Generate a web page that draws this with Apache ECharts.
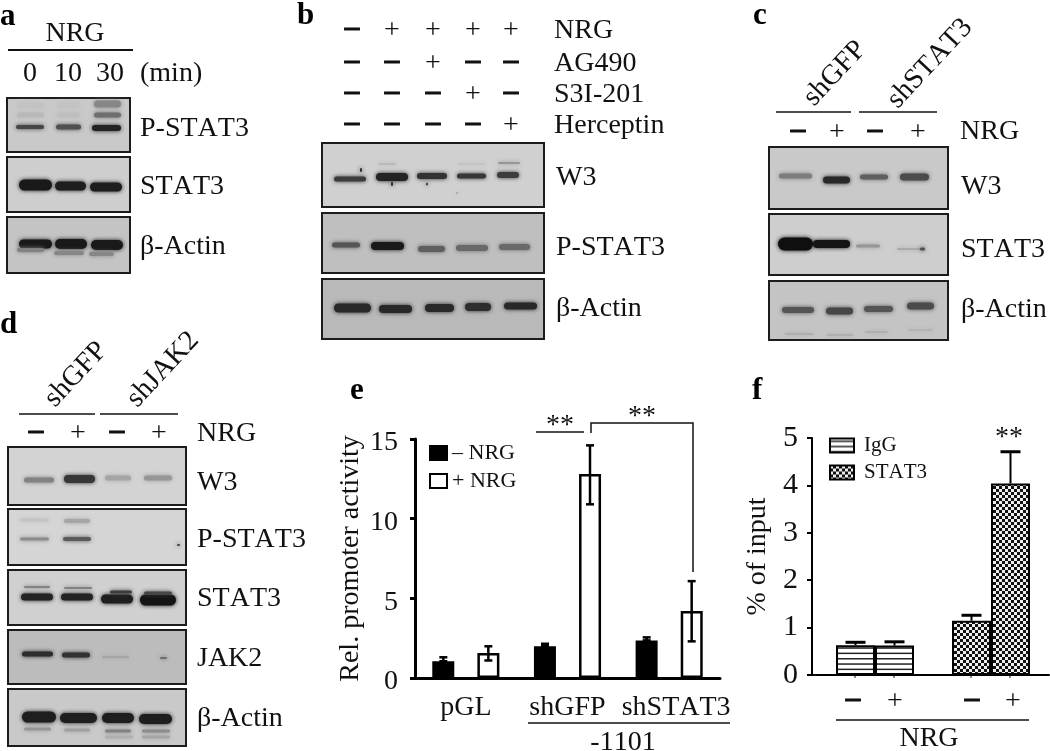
<!DOCTYPE html>
<html>
<head>
<meta charset="utf-8">
<title>NRG blots</title>
<script src="https://cdn.jsdelivr.net/npm/echarts@6/dist/echarts.min.js"></script>
<style>
  html, body { margin: 0; padding: 0; background: #fff; }
  #main { width: 1050px; height: 751px; }
</style>
</head>
<body>
<div id="main"></div>
<script>
// the figure is set without kerning, canvas text has it on by default
;['fillText', 'strokeText', 'measureText'].forEach(fn => {
  const orig = CanvasRenderingContext2D.prototype[fn]
  CanvasRenderingContext2D.prototype[fn] = function () {
    this.fontKerning = 'none'
    return orig.apply(this, arguments)
  }
})

// panel e values
const eCategories = ['pGL', 'shGFP', 'shSTAT3']
const eMinus = [1.05, 2.0, 2.36]
const ePlus = [1.57, 12.8, 4.2]
const eMinusHigh = [1.3, 2.15, 2.55]
const ePlusHigh = [1.99, 14.6, 6.08]
const ePlusLow = [1.1, 10.9, 2.3]
const eTicks = [0, 5, 10, 15]

// panel f values
const fGroups = ['IgG', 'STAT3']
const fMinus = [0.63, 1.145]
const fPlus = [0.62, 4.04]
const fMinusHigh = [0.69, 1.26]
const fPlusHigh = [0.7, 4.71]

// blot bands: [from, to, height, thickness, grey], in pixels of the panel
const aPhospho = [
  [9, 37, 29, 4, 70], [49, 74, 29, 5, 80], [85, 114, 30, 6, 35],
  [10, 37, 17, 5, 185], [50, 73, 17, 5, 190], [87, 114, 17, 5, 110],
  [10, 37, 7, 6, 195], [50, 73, 7, 6, 195], [87, 114, 6, 7, 135]
]
const aStat = [[12, 45, 28, 11, 25], [48, 79, 29, 9, 30], [83, 115, 30, 9, 30]]
const aActin = [
  [12, 45, 27, 9, 25], [48, 80, 27, 10, 25], [84, 116, 28, 10, 25],
  [10, 37, 33, 4, 130], [47, 77, 36, 4, 135], [82, 107, 37, 4, 135]
]
const bW3 = [
  [12, 44, 36, 5, 60], [54, 86, 34, 8, 35], [95, 125, 33, 6, 50], [135, 164, 33, 5, 55], [175, 197, 32, 6, 60],
  [38, 40, 27, 4, 50], [69, 71, 41, 4, 50], [104, 106, 41, 3, 70], [134, 136, 50, 1, 130],
  [56, 74, 21, 1, 170], [136, 163, 21, 1, 185], [176, 198, 20, 2, 150]
]
const bPhospho = [
  [10, 38, 32, 5, 85], [49, 82, 33, 8, 25], [96, 123, 36, 6, 95], [134, 166, 35, 6, 105], [177, 208, 34, 6, 105]
]
const bActin = [
  [12, 49, 29, 9, 40], [57, 90, 30, 8, 40], [103, 132, 29, 8, 40], [143, 169, 28, 8, 45], [182, 215, 27, 7, 40]
]
const cW3 = [[10, 43, 29, 5, 125], [54, 81, 33, 7, 40], [91, 119, 30, 5, 95], [131, 160, 30, 7, 75]]
const cStat = [
  [9, 44, 30, 13, 15], [44, 81, 30, 8, 20], [87, 111, 32, 3, 150], [128, 156, 35, 2, 170], [151, 156, 35, 3, 80]
]
const cActin = [
  [13, 45, 29, 6, 85], [57, 84, 30, 7, 70], [95, 124, 28, 6, 85], [138, 165, 25, 7, 75],
  [16, 44, 53, 2, 175], [58, 84, 54, 2, 175], [96, 119, 51, 2, 175], [139, 164, 49, 2, 180]
]
const dW3 = [[16, 46, 33, 5, 130], [56, 87, 32, 8, 55], [97, 123, 31, 5, 165], [136, 164, 31, 5, 150]]
const dPhospho = [
  [12, 41, 30, 3, 140], [55, 83, 30, 4, 90], [12, 41, 11, 3, 195], [56, 82, 12, 4, 165], [169, 172, 36, 2, 70]
]
const dStat = [
  [13, 45, 27, 7, 35], [53, 85, 27, 7, 35], [93, 125, 29, 9, 30], [132, 168, 30, 11, 20],
  [16, 42, 17, 2, 130], [56, 84, 18, 2, 130], [102, 124, 22, 3, 60], [136, 164, 23, 3, 70]
]
const dJak = [
  [14, 45, 24, 5, 45], [54, 82, 25, 5, 50], [94, 121, 27, 2, 165], [152, 159, 28, 2, 110]
]
const dActin = [
  [14, 48, 28, 11, 30], [52, 89, 29, 10, 30], [94, 126, 29, 10, 30], [131, 164, 30, 10, 30],
  [16, 43, 40, 3, 150], [56, 82, 41, 3, 160], [97, 123, 42, 3, 130], [134, 162, 42, 3, 140],
  [97, 125, 48, 3, 175], [134, 162, 48, 3, 165]
]

// row and column texts
const aTimes = ['0', '10', '30']
const bNrg = ['–', '+', '+', '+', '+']
const bAg = ['–', '–', '+', '–', '–']
const bS3i = ['–', '–', '–', '+', '–']
const bHer = ['–', '–', '–', '–', '+']
const pairSigns = ['–', '+', '–', '+']

const FONT = 'Liberation Serif'

// [x, y, w, h, background, bands]
const blots = [
  [7, 98, 123, 54, '#c9c9c9', aPhospho],
  [7, 157, 123, 55, '#cecece', aStat],
  [7, 217, 123, 56, '#c4c4c4', aActin],
  [322, 143, 222, 64, '#d0d0d0', bW3],
  [322, 213, 222, 60, '#bfbfbf', bPhospho],
  [322, 279, 222, 60, '#b9b9b9', bActin],
  [769, 147, 179, 62, '#c9c9c9', cW3],
  [769, 214, 179, 61, '#cecece', cStat],
  [769, 281, 179, 59, '#c4c4c4', cActin],
  [8, 447, 178, 58, '#d3d3d3', dW3],
  [8, 509, 178, 56, '#d5d5d5', dPhospho],
  [8, 570, 178, 55, '#d0d0d0', dStat],
  [8, 630, 178, 54, '#bcbcbc', dJak],
  [8, 689, 178, 57, '#c9c9c9', dActin]
]

function txt(x, y, text, size, extra) {
  return {
    type: 'text',
    x: x,
    y: y + 1.5,
    silent: true,
    style: Object.assign({
      text: text,
      fontFamily: FONT,
      fontSize: size || 28,
      fill: '#111',
      align: 'center',
      verticalAlign: 'middle'
    }, extra || {})
  }
}
function left(x, y, text, size) {
  return txt(x, y, text, size, { align: 'left' })
}
function letter(x, y, text) {
  return txt(x, y - 1.5, text, 31, { align: 'left', fontWeight: 'bold', fill: '#000' })
}
function sign(x, y, s) {
  return s === '–'
    ? txt(x, y - 2, s, 29, { fontWeight: 'bold', stroke: '#111', lineWidth: 1 })
    : txt(x, y + 0.5, s, 28)
}
function rotated(x, y, text) {
  const t = txt(x, y, text, 28.5)
  t.rotation = 47 * Math.PI / 180
  return t
}
function rule(x1, y1, x2, y2, w) {
  return {
    type: 'line',
    silent: true,
    shape: { x1: x1, y1: y1, x2: x2, y2: y2 },
    style: { stroke: '#111', lineWidth: w || 1.5 }
  }
}

const graphics = [
  // a
  letter(0, 17, 'a'), txt(75, 32, 'NRG'), rule(8, 50, 133, 50, 2),
  txt(30, 72, aTimes[0]), txt(68, 72, aTimes[1]), txt(110, 72, aTimes[2]), left(140, 72, '(min)'),
  left(140, 127, 'P-STAT3'), left(140, 185, 'STAT3'), left(140, 245, 'β-Actin'),
  // b
  letter(297, 16, 'b'),
  left(554, 29, 'NRG'), left(554, 62, 'AG490'), left(554, 93, 'S3I-201'), left(554, 124, 'Herceptin'),
  left(556, 176, 'W3'), left(556, 246, 'P-STAT3'), left(556, 307, 'β-Actin'),
  // c
  letter(753, 16, 'c'),
  rotated(835, 72, 'shGFP'), rotated(930, 62, 'shSTAT3'),
  rule(776, 112, 851, 112), rule(859, 112, 937, 112),
  left(960, 130, 'NRG'), left(961, 185, 'W3'), left(961, 248, 'STAT3'), left(961, 308, 'β-Actin'),
  // d
  letter(0, 325, 'd'),
  rotated(76, 373, 'shGFP'), rotated(163, 368, 'shJAK2'),
  rule(19, 414, 95, 414), rule(100, 414, 178, 414),
  left(197, 432, 'NRG'), left(197, 481, 'W3'), left(197, 538, 'P-STAT3'),
  left(197, 597, 'STAT3'), left(197, 657, 'JAK2'), left(197, 717, 'β-Actin'),
  // e
  letter(350, 391, 'e'),
  txt(560, 424.5, '**'), rule(536, 432, 584, 432),
  txt(642, 415.5, '**'),
  {
    type: 'polyline',
    silent: true,
    shape: { points: [[591, 433], [591, 423], [693, 423], [693, 572]] },
    style: { stroke: '#111', lineWidth: 1.5, fill: null }
  },
  rule(528, 723, 730, 723), txt(623, 741.5, '-1101'),
  // f
  letter(752, 391, 'f'),
  txt(1009, 436.5, '**'), rule(812, 675, 817, 675, 2),
  rule(836, 720, 1029, 720), txt(929, 737, 'NRG'),
  rule(855, 676, 855, 678, 1), rule(894, 676, 894, 678, 1), rule(971, 676, 971, 678, 1), rule(1010, 676, 1010, 678, 1)
]
;[352, 392, 433, 473, 511].forEach((x, i) => {
  graphics.push(sign(x, 29, bNrg[i]), sign(x, 62, bAg[i]), sign(x, 93, bS3i[i]), sign(x, 124, bHer[i]))
})
;[798, 837, 875, 918].forEach((x, i) => graphics.push(sign(x, 131, pairSigns[i])))
;[36, 78, 117, 159].forEach((x, i) => graphics.push(sign(x, 432, pairSigns[i])))
;[853, 895, 972, 1013].forEach((x, i) => graphics.push(sign(x, 700, pairSigns[i])))

// fill patterns of panel f
function stripes() {
  const c = document.createElement('canvas')
  c.width = 4
  c.height = 16
  const ctx = c.getContext('2d')
  ctx.fillStyle = '#fff'
  ctx.fillRect(0, 0, 4, 16)
  ctx.fillStyle = '#222'
  ctx.fillRect(0, 2, 4, 1.5)
  ctx.fillRect(0, 7.3, 4, 1.5)
  ctx.fillRect(0, 12.6, 4, 1.5)
  return c
}
function checks() {
  const c = document.createElement('canvas')
  c.width = 6
  c.height = 6
  const ctx = c.getContext('2d')
  ctx.fillStyle = '#111'
  ctx.fillRect(0, 0, 6, 6)
  ctx.fillStyle = '#eee'
  ctx.fillRect(0, 0, 3, 3)
  ctx.fillRect(3, 3, 3, 3)
  return c
}
const stripeFill = { image: stripes(), repeat: 'repeat' }
const checkFill = { image: checks(), repeat: 'repeat' }

function renderBand(params, api) {
  const a = api.coord([api.value(0), api.value(2)])
  const b = api.coord([api.value(1), api.value(2)])
  const t = api.value(3)
  const g = api.value(4)
  const col = 'rgb(' + g + ',' + g + ',' + g + ')'
  return {
    type: 'rect',
    shape: { x: a[0], y: a[1] - t / 2, width: b[0] - a[0], height: t, r: t / 2 },
    style: { fill: col, shadowBlur: 4, shadowColor: col }
  }
}

// whisker around a bar, side is the pixel shift from the group centre
function renderWhisker(side, cap, lw) {
  return function (params, api) {
    const lo = api.coord([api.value(0), api.value(1)])
    const hi = api.coord([api.value(0), api.value(2)])
    const x = lo[0] + side
    const st = { stroke: '#000', lineWidth: lw }
    return {
      type: 'group',
      children: [
        { type: 'line', shape: { x1: x, y1: lo[1], x2: x, y2: hi[1] }, style: st },
        { type: 'line', shape: { x1: x - cap, y1: hi[1], x2: x + cap, y2: hi[1] }, style: st },
        { type: 'line', shape: { x1: x - cap, y1: lo[1], x2: x + cap, y2: lo[1] }, style: st }
      ]
    }
  }
}
function renderUpper(side) {
  return function (params, api) {
    const lo = api.coord([api.value(0), api.value(1)])
    const hi = api.coord([api.value(0), api.value(2)])
    const x = lo[0] + side
    return {
      type: 'group',
      children: [
        { type: 'line', shape: { x1: x, y1: lo[1], x2: x, y2: hi[1] }, style: { stroke: '#000', lineWidth: 2 } },
        { type: 'line', shape: { x1: x - 10, y1: hi[1], x2: x + 10, y2: hi[1] }, style: { stroke: '#000', lineWidth: 3 } }
      ]
    }
  }
}
function whisker(xi, yi, data, render) {
  return {
    type: 'custom',
    xAxisIndex: xi,
    yAxisIndex: yi,
    silent: true,
    z: 5,
    renderItem: render,
    encode: { x: 0, y: [1, 2] },
    data: data
  }
}

const grid = []
const xAxis = []
const yAxis = []
const series = []

blots.forEach((b, i) => {
  grid.push({
    left: b[0], top: b[1], width: b[2], height: b[3],
    show: true, backgroundColor: b[4], borderColor: '#1c1c1c', borderWidth: 2
  })
  xAxis.push({ type: 'value', gridIndex: i, show: false, min: 0, max: b[2] })
  yAxis.push({ type: 'value', gridIndex: i, show: false, min: 0, max: b[3], inverse: true })
  series.push({
    type: 'custom',
    xAxisIndex: i,
    yAxisIndex: i,
    silent: true,
    renderItem: renderBand,
    encode: { x: [0, 1], y: 2 },
    data: b[5]
  })
})

// bar chart e
const ei = grid.length
grid.push({ left: 415, top: 439, width: 305, height: 239 })
xAxis.push({
  type: 'category',
  gridIndex: ei,
  data: eCategories,
  axisLine: { lineStyle: { color: '#000', width: 3 } },
  axisTick: { show: false },
  axisLabel: {
    interval: 0, hideOverlap: false,
    fontFamily: FONT, fontSize: 28, color: '#111', margin: 16,
    formatter: v => (v === 'shSTAT3' ? '{s|' + v + '}' : v),
    rich: { s: { fontFamily: FONT, fontSize: 28, color: '#111', padding: [0, 0, 0, 14] } }
  }
})
yAxis.push({
  type: 'value',
  gridIndex: ei,
  min: eTicks[0],
  max: eTicks[eTicks.length - 1],
  interval: 5,
  name: 'Rel. promoter activity',
  nameLocation: 'middle',
  nameGap: 50,
  nameTextStyle: { fontFamily: FONT, fontSize: 28, color: '#111' },
  axisLine: { show: true, lineStyle: { color: '#000', width: 3 } },
  axisTick: { show: true, length: 5, lineStyle: { color: '#000', width: 3 } },
  // labels sit a little under their ticks in the figure
  axisLabel: {
    fontFamily: FONT, fontSize: 28, color: '#111', margin: 17,
    verticalAlign: 'top', lineHeight: 28, padding: [-10, 0, 0, 0]
  },
  splitLine: { show: false }
})
series.push(
  {
    name: '– NRG', type: 'bar', xAxisIndex: ei, yAxisIndex: ei, data: eMinus,
    barWidth: 22, barGap: '105%',
    itemStyle: { color: '#000', borderColor: '#000', borderWidth: 2.5 }
  },
  {
    name: '+ NRG', type: 'bar', xAxisIndex: ei, yAxisIndex: ei, data: ePlus,
    barWidth: 22, barGap: '105%',
    itemStyle: { color: '#fff', borderColor: '#000', borderWidth: 2.5 }
  },
  whisker(ei, ei, eMinus.map((v, i) => [i, v, eMinusHigh[i]]), renderWhisker(-22.5, 4, 2.5)),
  whisker(ei, ei, ePlus.map((v, i) => [i, ePlusLow[i], ePlusHigh[i]]), renderWhisker(22.5, 4, 2.5))
)

// bar chart f
const fi = grid.length
grid.push({ left: 817, top: 438, width: 232, height: 237 })
xAxis.push({
  type: 'category',
  gridIndex: fi,
  data: fGroups,
  axisLine: { lineStyle: { color: '#000', width: 2 } },
  axisTick: { show: false },
  axisLabel: { show: false }
})
yAxis.push({
  type: 'value',
  gridIndex: fi,
  offset: 5,
  min: 0,
  max: 5,
  interval: 1,
  name: '% of input',
  nameLocation: 'middle',
  nameGap: 40,
  nameTextStyle: { fontFamily: FONT, fontSize: 28, color: '#111' },
  axisLine: { show: true, lineStyle: { color: '#000', width: 2 } },
  axisTick: { show: true, length: 5, lineStyle: { color: '#000', width: 2 } },
  axisLabel: { fontFamily: FONT, fontSize: 30, color: '#111', margin: 14 },
  splitLine: { show: false }
})
function fBar(name, stack, data, fill) {
  return {
    name: name, type: 'bar', stack: stack, xAxisIndex: fi, yAxisIndex: fi, data: data,
    barWidth: 39, barGap: 0,
    itemStyle: { color: fill, borderColor: '#000', borderWidth: 2 }
  }
}
series.push(
  fBar('IgG', 'minus', [fMinus[0], null], stripeFill),
  fBar('STAT3', 'minus', [null, fMinus[1]], checkFill),
  fBar('IgG', 'plus', [fPlus[0], null], stripeFill),
  fBar('STAT3', 'plus', [null, fPlus[1]], checkFill),
  whisker(fi, fi, fMinus.map((v, i) => [i, v, fMinusHigh[i]]), renderUpper(-19.5)),
  whisker(fi, fi, fPlus.map((v, i) => [i, v, fPlusHigh[i]]), renderUpper(19.5))
)

const chart = echarts.init(document.getElementById('main'))
chart.setOption({
  animation: false,
  backgroundColor: '#fff',
  grid: grid,
  xAxis: xAxis,
  yAxis: yAxis,
  legend: [
    {
      data: ['– NRG', '+ NRG'],
      left: 429, top: 442, orient: 'vertical', padding: 0, icon: 'rect',
      itemWidth: 17, itemHeight: 14, itemGap: 6, selectedMode: false,
      textStyle: { fontFamily: FONT, fontSize: 22, color: '#111' }
    },
    {
      data: fGroups,
      left: 829, top: 435, orient: 'vertical', padding: 0, icon: 'rect',
      itemWidth: 24, itemHeight: 14, itemGap: 6, selectedMode: false,
      textStyle: { fontFamily: FONT, fontSize: 21, color: '#111', padding: [0, 0, 0, 5] }
    }
  ],
  graphic: { elements: graphics },
  series: series
})
</script>
</body>
</html>
